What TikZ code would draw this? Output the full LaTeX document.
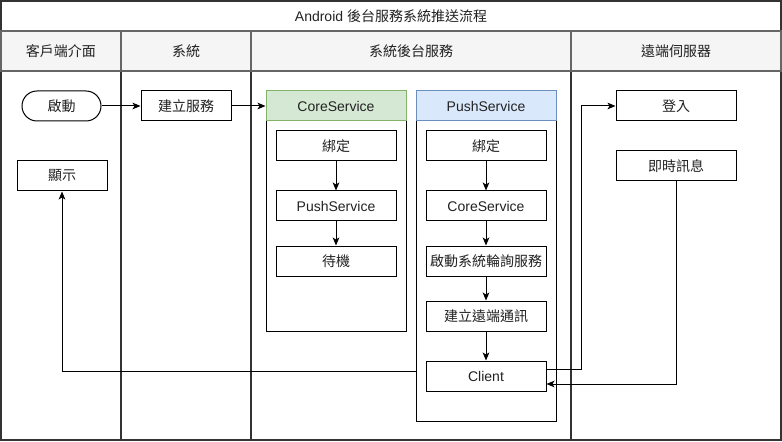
\documentclass[tikz,border=0pt]{standalone}
\usepackage{fontspec}
\usepackage{xcolor}
\setmainfont{Liberation Sans}
\newfontfamily\cjk{Noto Sans CJK TC}
\usetikzlibrary{arrows.meta,calc}

\definecolor{laneLine}{HTML}{333333}
\definecolor{headLine}{HTML}{666666}
\definecolor{headFill}{HTML}{F5F5F5}
\definecolor{coreFill}{HTML}{D5E8D4}
\definecolor{coreLine}{HTML}{82B366}
\definecolor{pushFill}{HTML}{DAE8FC}
\definecolor{pushLine}{HTML}{6C8EBF}
\definecolor{txt}{HTML}{222222}

\tikzset{
	lane/.style={draw=laneLine, line width=1.5pt},
	lanehead/.style={draw=headLine, fill=headFill, line width=1.5pt, minimum height=30pt, inner sep=0pt},
	task/.style={draw, fill=white, line width=0.75pt, minimum width=90pt, minimum height=22.5pt, inner sep=0pt},
	group/.style={draw, line width=0.75pt, minimum width=105pt, inner sep=0pt},
	flow/.style={-{Stealth[length=6pt,width=5pt,inset=1.5pt]}, line width=0.75pt}
}

\begin{document}
\begin{tikzpicture}[x=0.75pt, y=-0.75pt, every node/.style={text=txt, font=\fontsize{10.5}{12}\selectfont}]
	\useasboundingbox (0,0) rectangle (782,442);
	\draw[lane, fill=white] (1,1) rectangle (781,31);
	\draw[lane] (1,71) rectangle (121,440);
	\draw[lane] (121,71) rectangle (251,440);
	\draw[lane] (251,71) rectangle (571,440);
	\draw[lane] (571,71) rectangle (781,440);
	\node (title) at (391,16){Android {\cjk 後台服務系統推送流程}};
	\node[lanehead, minimum width=90pt] (client) at (61,51){\cjk 客戶端介面};
	\node[lanehead, minimum width=97.5pt] (system) at (186,51){\cjk 系統};
	\node[lanehead, minimum width=240pt] (backend) at (411,51){\cjk 系統後台服務};
	\node[lanehead, minimum width=157.5pt] (remote) at (676,51){\cjk 遠端伺服器};

	\node[task, minimum width=59.25pt, rounded corners=11.25pt] (start) at (61.5,106){\cjk 啟動};
	\node[task, minimum width=67.5pt] (show) at (62,176){\cjk 顯示};
	\node[task, minimum width=67.5pt] (build) at (186,106){\cjk 建立服務};

	\node[group, minimum height=157.5pt] (csBody) at (336,226){};
	\node[group, minimum height=22.5pt, fill=coreFill, draw=coreLine] (csHead) at (336,106){CoreService};
	\node[task] (csBind) at (336,146){\cjk 綁定};
	\node[task] (csPush) at (336,206){PushService};
	\node[task] (csWait) at (336,261){\cjk 待機};

	\node[group, minimum height=225pt] (psBody) at (486,271){};
	\node[group, minimum height=22.5pt, fill=pushFill, draw=pushLine] (psHead) at (486,106){PushService};
	\node[task] (psBind) at (486,146){\cjk 綁定};
	\node[task] (psCore) at (486,206){CoreService};
	\node[task] (psPoll) at (486,261){\cjk 啟動系統輪詢服務};
	\node[task] (psRemote) at (486,316){\cjk 建立遠端通訊};
	\node[task] (psClient) at (486,376){Client};

	\node[task] (login) at (676,106){\cjk 登入};
	\node[task] (msg) at (676,166){\cjk 即時訊息};

	\draw[flow] (start) -- (build);
	\draw[flow] (build) -- (csHead);
	\draw[flow] (csBind) -- (csPush);
	\draw[flow] (csPush) -- (csWait);
	\draw[flow] (psBind) -- (psCore);
	\draw[flow] (psCore) -- (psPoll);
	\draw[flow] (psPoll) -- (psRemote);
	\draw[flow] (psRemote) -- (psClient);
	\draw[flow] ($(psClient.east)+(0,-7)$) -- ++(35,0) |- (login.west);
	\draw[flow] (msg.south) |- ($(psClient.east)+(0,8)$);
	\draw[flow] ($(psClient.west -| psBody.west)+(0,-5)$) -| (show.south);
\end{tikzpicture}
\end{document}
